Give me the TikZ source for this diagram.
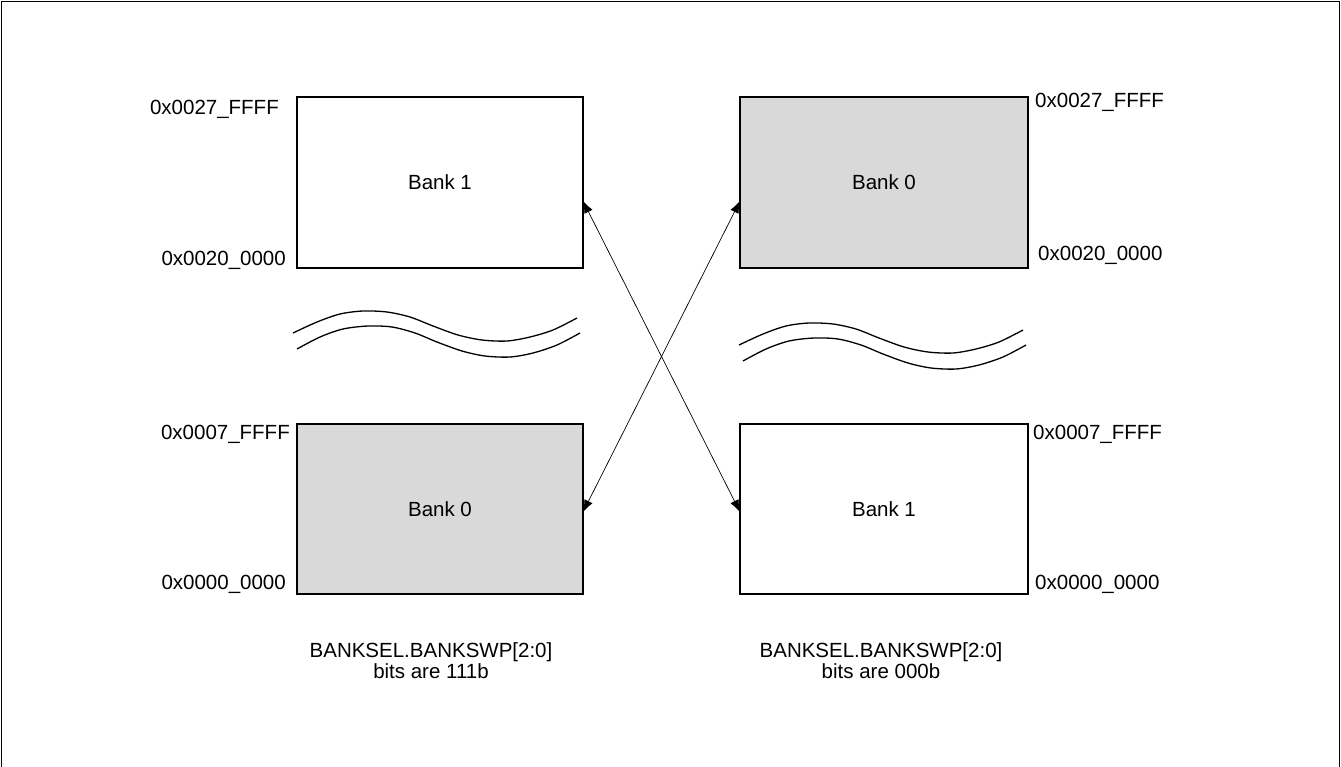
\documentclass[tikz,border=0pt]{standalone}
\usepackage{fontspec}
\setmainfont{Liberation Sans}
\usetikzlibrary{arrows.meta}
\definecolor{bankgray}{RGB}{217,217,217}
\tikzset{
  bankbox/.style={draw=black, line width=1.4pt, inner sep=0pt},
  addr/.style={inner sep=0pt, font=\fontsize{20.5}{24}\selectfont},
  lbl/.style={inner sep=0pt, font=\fontsize{20.5}{24}\selectfont, align=center},
  swap/.style={line width=0.7pt, {Latex[length=12pt,width=9pt]}-{Latex[length=12pt,width=9pt]}},
  wave/.style={line width=1.3pt}
}
\begin{document}
\begin{tikzpicture}[x=1pt,y=-1pt]
\useasboundingbox (0,0) rectangle (1341,766);
\draw[line width=1pt] (1,1) rectangle (1339.5,780);

% boxes
\draw[bankbox, fill=white] (297,97) rectangle (583,268);
\node[lbl] (b1l) at (440,182.5) {Bank 1};
\draw[bankbox, fill=bankgray] (297,424) rectangle (583,594);
\node[lbl] (b0l) at (440,509) {Bank 0};
\draw[bankbox, fill=bankgray] (740,97) rectangle (1028,268);
\node[lbl] (b0r) at (884,182.5) {Bank 0};
\draw[bankbox, fill=white] (740,424) rectangle (1028,594);
\node[lbl] (b1r) at (884,509) {Bank 1};

% address labels
\node[addr, anchor=east] (a1) at (279,109) {0x0027\_FFFF};
\node[addr, anchor=east] (a2) at (286,260) {0x0020\_0000};
\node[addr, anchor=east] (a3) at (290,434) {0x0007\_FFFF};
\node[addr, anchor=east] (a4) at (286,584) {0x0000\_0000};
\node[addr, anchor=west] (a5) at (1035,102) {0x0027\_FFFF};
\node[addr, anchor=west] (a6) at (1038,255) {0x0020\_0000};
\node[addr, anchor=west] (a7) at (1033,434) {0x0007\_FFFF};
\node[addr, anchor=west] (a8) at (1035,584) {0x0000\_0000};

% bottom captions
\node[lbl] (c1) at (431,661) {BANKSEL.BANKSWP[2:0]\\[-3pt]bits are 111b};
\node[lbl] (c2) at (881,661) {BANKSEL.BANKSWP[2:0]\\[-3pt]bits are 000b};

% arrows
\coordinate (p1) at (583,201);
\coordinate (p2) at (740,512);
\coordinate (p3) at (740,201);
\coordinate (p4) at (583,512);
\draw[swap] (p1) -- (p2);
\draw[swap] (p3) -- (p4);

% wavy breaks
\foreach \dx/\dy in {0/0, 446/12}{
  \begin{scope}[shift={(\dx,\dy)}]
  \draw[wave] plot[smooth, tension=0.5] coordinates {(293,333) (317,322) (340,314) (363,311) (387,312) (410,317) (433,326) (458,335) (482,340) (507,341) (530,337) (553,330) (577,318)};
  \draw[wave] plot[smooth, tension=0.5] coordinates {(297,349) (320,337) (343,329) (368,326) (392,327) (415,333) (437,342) (462,351) (485,356) (510,357) (533,353) (557,345) (580,333)};
  \end{scope}
}
\end{tikzpicture}
\end{document}
